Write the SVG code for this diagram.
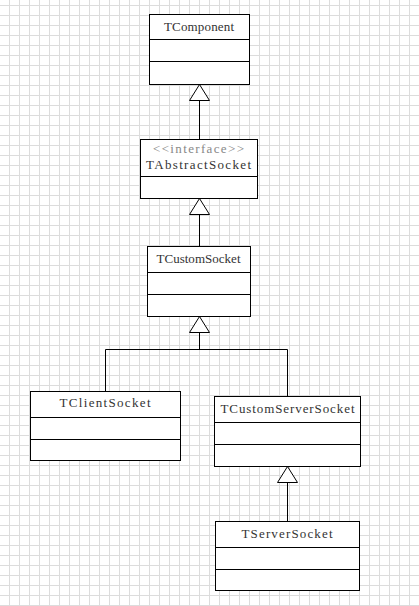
<svg xmlns="http://www.w3.org/2000/svg" width="419" height="606" viewBox="0 0 419 606">
<style>
.box{fill:#fff;stroke:#000;stroke-width:1}
.div{stroke:#000;stroke-width:1}
.t{font-family:"Liberation Serif","DejaVu Serif",serif;font-size:13px;fill:#333;text-anchor:middle}
.st{font-family:"Liberation Serif","DejaVu Serif",serif;font-size:13px;fill:#888;text-anchor:middle}
.ln{fill:none;stroke:#000;stroke-width:1}
.tri{fill:#fff;stroke:#000;stroke-width:1}
</style>
<defs>
<pattern id="grid" width="10" height="10" patternUnits="userSpaceOnUse" x="0" y="6">
<path d="M9.5 0V10M0 9.5H10" fill="none" stroke="#dcdcdc" stroke-width="1"/>
</pattern>
</defs>
<rect width="419" height="606" fill="#fff"/>
<rect width="419" height="606" fill="url(#grid)"/>
<g id="connectors">
<line class="ln" x1="199.5" y1="100.5" x2="199.5" y2="139.5"/>
<polygon class="tri" points="199.5,84.5 189.5,100.5 209.5,100.5"/>
<line class="ln" x1="199.5" y1="214.5" x2="199.5" y2="246.5"/>
<polygon class="tri" points="199.5,198.5 189.5,214.5 209.5,214.5"/>
<polyline class="ln" points="199.5,332.5 199.5,349.5"/>
<polyline class="ln" points="105.5,391.5 105.5,349.5 287.5,349.5 287.5,396.5"/>
<polygon class="tri" points="199.5,316.5 189.5,332.5 209.5,332.5"/>
<line class="ln" x1="287.5" y1="482.5" x2="287.5" y2="521.5"/>
<polygon class="tri" points="287.5,466.5 277.5,482.5 297.5,482.5"/>
</g>
<g id="TComponent">
<rect class="box" x="149.5" y="14.5" width="100" height="70"/>
<line class="div" x1="149.5" y1="39.5" x2="249.5" y2="39.5"/>
<line class="div" x1="149.5" y1="61.5" x2="249.5" y2="61.5"/>
<text class="t" x="199" y="31" textLength="70" lengthAdjust="spacing">TComponent</text>
</g>
<g id="TAbstractSocket">
<rect class="box" x="140.5" y="139.5" width="117" height="59"/>
<line class="div" x1="140.5" y1="176.5" x2="257.5" y2="176.5"/>
<text class="st" x="198.5" y="153" textLength="91" lengthAdjust="spacing">&lt;&lt;interface&gt;&gt;</text>
<text class="t" x="198.5" y="169" textLength="105" lengthAdjust="spacing">TAbstractSocket</text>
</g>
<g id="TCustomSocket">
<rect class="box" x="147.5" y="246.5" width="103" height="70"/>
<line class="div" x1="147.5" y1="272.5" x2="250.5" y2="272.5"/>
<line class="div" x1="147.5" y1="294.5" x2="250.5" y2="294.5"/>
<text class="t" x="198.5" y="263" textLength="84" lengthAdjust="spacing">TCustomSocket</text>
</g>
<g id="TClientSocket">
<rect class="box" x="30.5" y="391.5" width="150" height="69"/>
<line class="div" x1="30.5" y1="417.5" x2="180.5" y2="417.5"/>
<line class="div" x1="30.5" y1="439.5" x2="180.5" y2="439.5"/>
<text class="t" x="105" y="407" textLength="91" lengthAdjust="spacing">TClientSocket</text>
</g>
<g id="TCustomServerSocket">
<rect class="box" x="214.5" y="396.5" width="146" height="70"/>
<line class="div" x1="214.5" y1="422.5" x2="360.5" y2="422.5"/>
<line class="div" x1="214.5" y1="444.5" x2="360.5" y2="444.5"/>
<text class="t" x="287.5" y="413" textLength="134" lengthAdjust="spacing">TCustomServerSocket</text>
</g>
<g id="TServerSocket">
<rect class="box" x="215.5" y="521.5" width="144" height="69"/>
<line class="div" x1="215.5" y1="547.5" x2="359.5" y2="547.5"/>
<line class="div" x1="215.5" y1="569.5" x2="359.5" y2="569.5"/>
<text class="t" x="287" y="538" textLength="91" lengthAdjust="spacing">TServerSocket</text>
</g>
</svg>
